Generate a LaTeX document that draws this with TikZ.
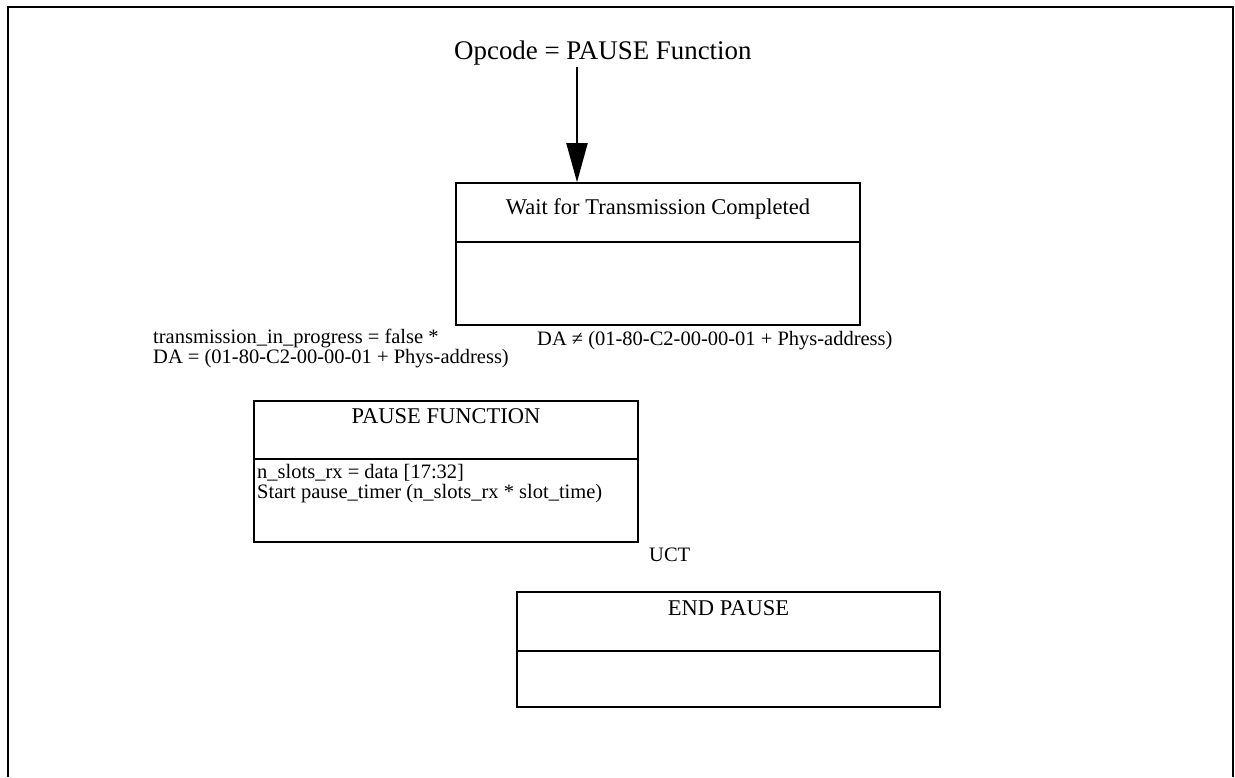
\documentclass[tikz,border=0pt]{standalone}
\usepackage{fontspec}
\setmainfont{Liberation Serif}
\usetikzlibrary{arrows.meta}
\tikzset{
  statebox/.style={draw, line width=1.6pt, rectangle, inner sep=0pt},
  divider/.style={line width=1.6pt},
  lbl/.style={inner sep=0pt, font=\fontsize{20.5}{19.5}\selectfont, align=left},
  ttl/.style={inner sep=0pt, font=\fontsize{22.5}{24}\selectfont},
  big/.style={inner sep=0pt, font=\fontsize{26.9}{28}\selectfont},
  flow/.style={line width=2pt, -{Triangle[length=39pt,width=21pt]}},
  frame/.style={line width=2.2pt}
}
\begin{document}
\begin{tikzpicture}[x=1pt,y=-1pt]
\useasboundingbox (0,0) rectangle (1235,777);
% outer frame (bottom edge cut off)
\draw[frame] (8,777) -- (8,7) -- (1233,7) -- (1233,777);

% opcode text and arrow
\node[big, anchor=base west] (opcode) at (454,59) {Opcode = PAUSE Function};
\coordinate (arrx) at (577,0);

% Wait box
\node[statebox, minimum width=404pt, minimum height=142pt] (wait) at (658,254) {};
\draw[divider] (456,242) -- (860,242);
\node[ttl, anchor=base] (waitt) at (658,214) {Wait for Transmission Completed};

\draw[flow] (opcode.south -| arrx) ++(0,2) -- (wait.north -| arrx);

% transition labels
\node[lbl, anchor=base west] (cond1) at (153,363) {transmission\_in\_progress = false *\\DA = (01-80-C2-00-00-01 + Phys-address)};
\node[lbl, anchor=base west] (cond2) at (537,345) {DA ≠ (01-80-C2-00-00-01 + Phys-address)};

% PAUSE FUNCTION box
\node[statebox, minimum width=384pt, minimum height=141pt] (pause) at (446,471.5) {};
\draw[divider] (254,459) -- (638,459);
\node[ttl, anchor=base] (pauset) at (446,423) {PAUSE FUNCTION};
\node[lbl, anchor=base west] (pausec) at (257,498) {n\_slots\_rx = data [17:32]\\Start pause\_timer (n\_slots\_rx * slot\_time)};

\node[lbl, anchor=base west] (uct) at (649,561) {UCT};

% END PAUSE box
\node[statebox, minimum width=423pt, minimum height=115pt] (endp) at (728.5,649.5) {};
\draw[divider] (517,651) -- (940,651);
\node[ttl, anchor=base] (endt) at (728.5,615) {END PAUSE};
\end{tikzpicture}
\end{document}
